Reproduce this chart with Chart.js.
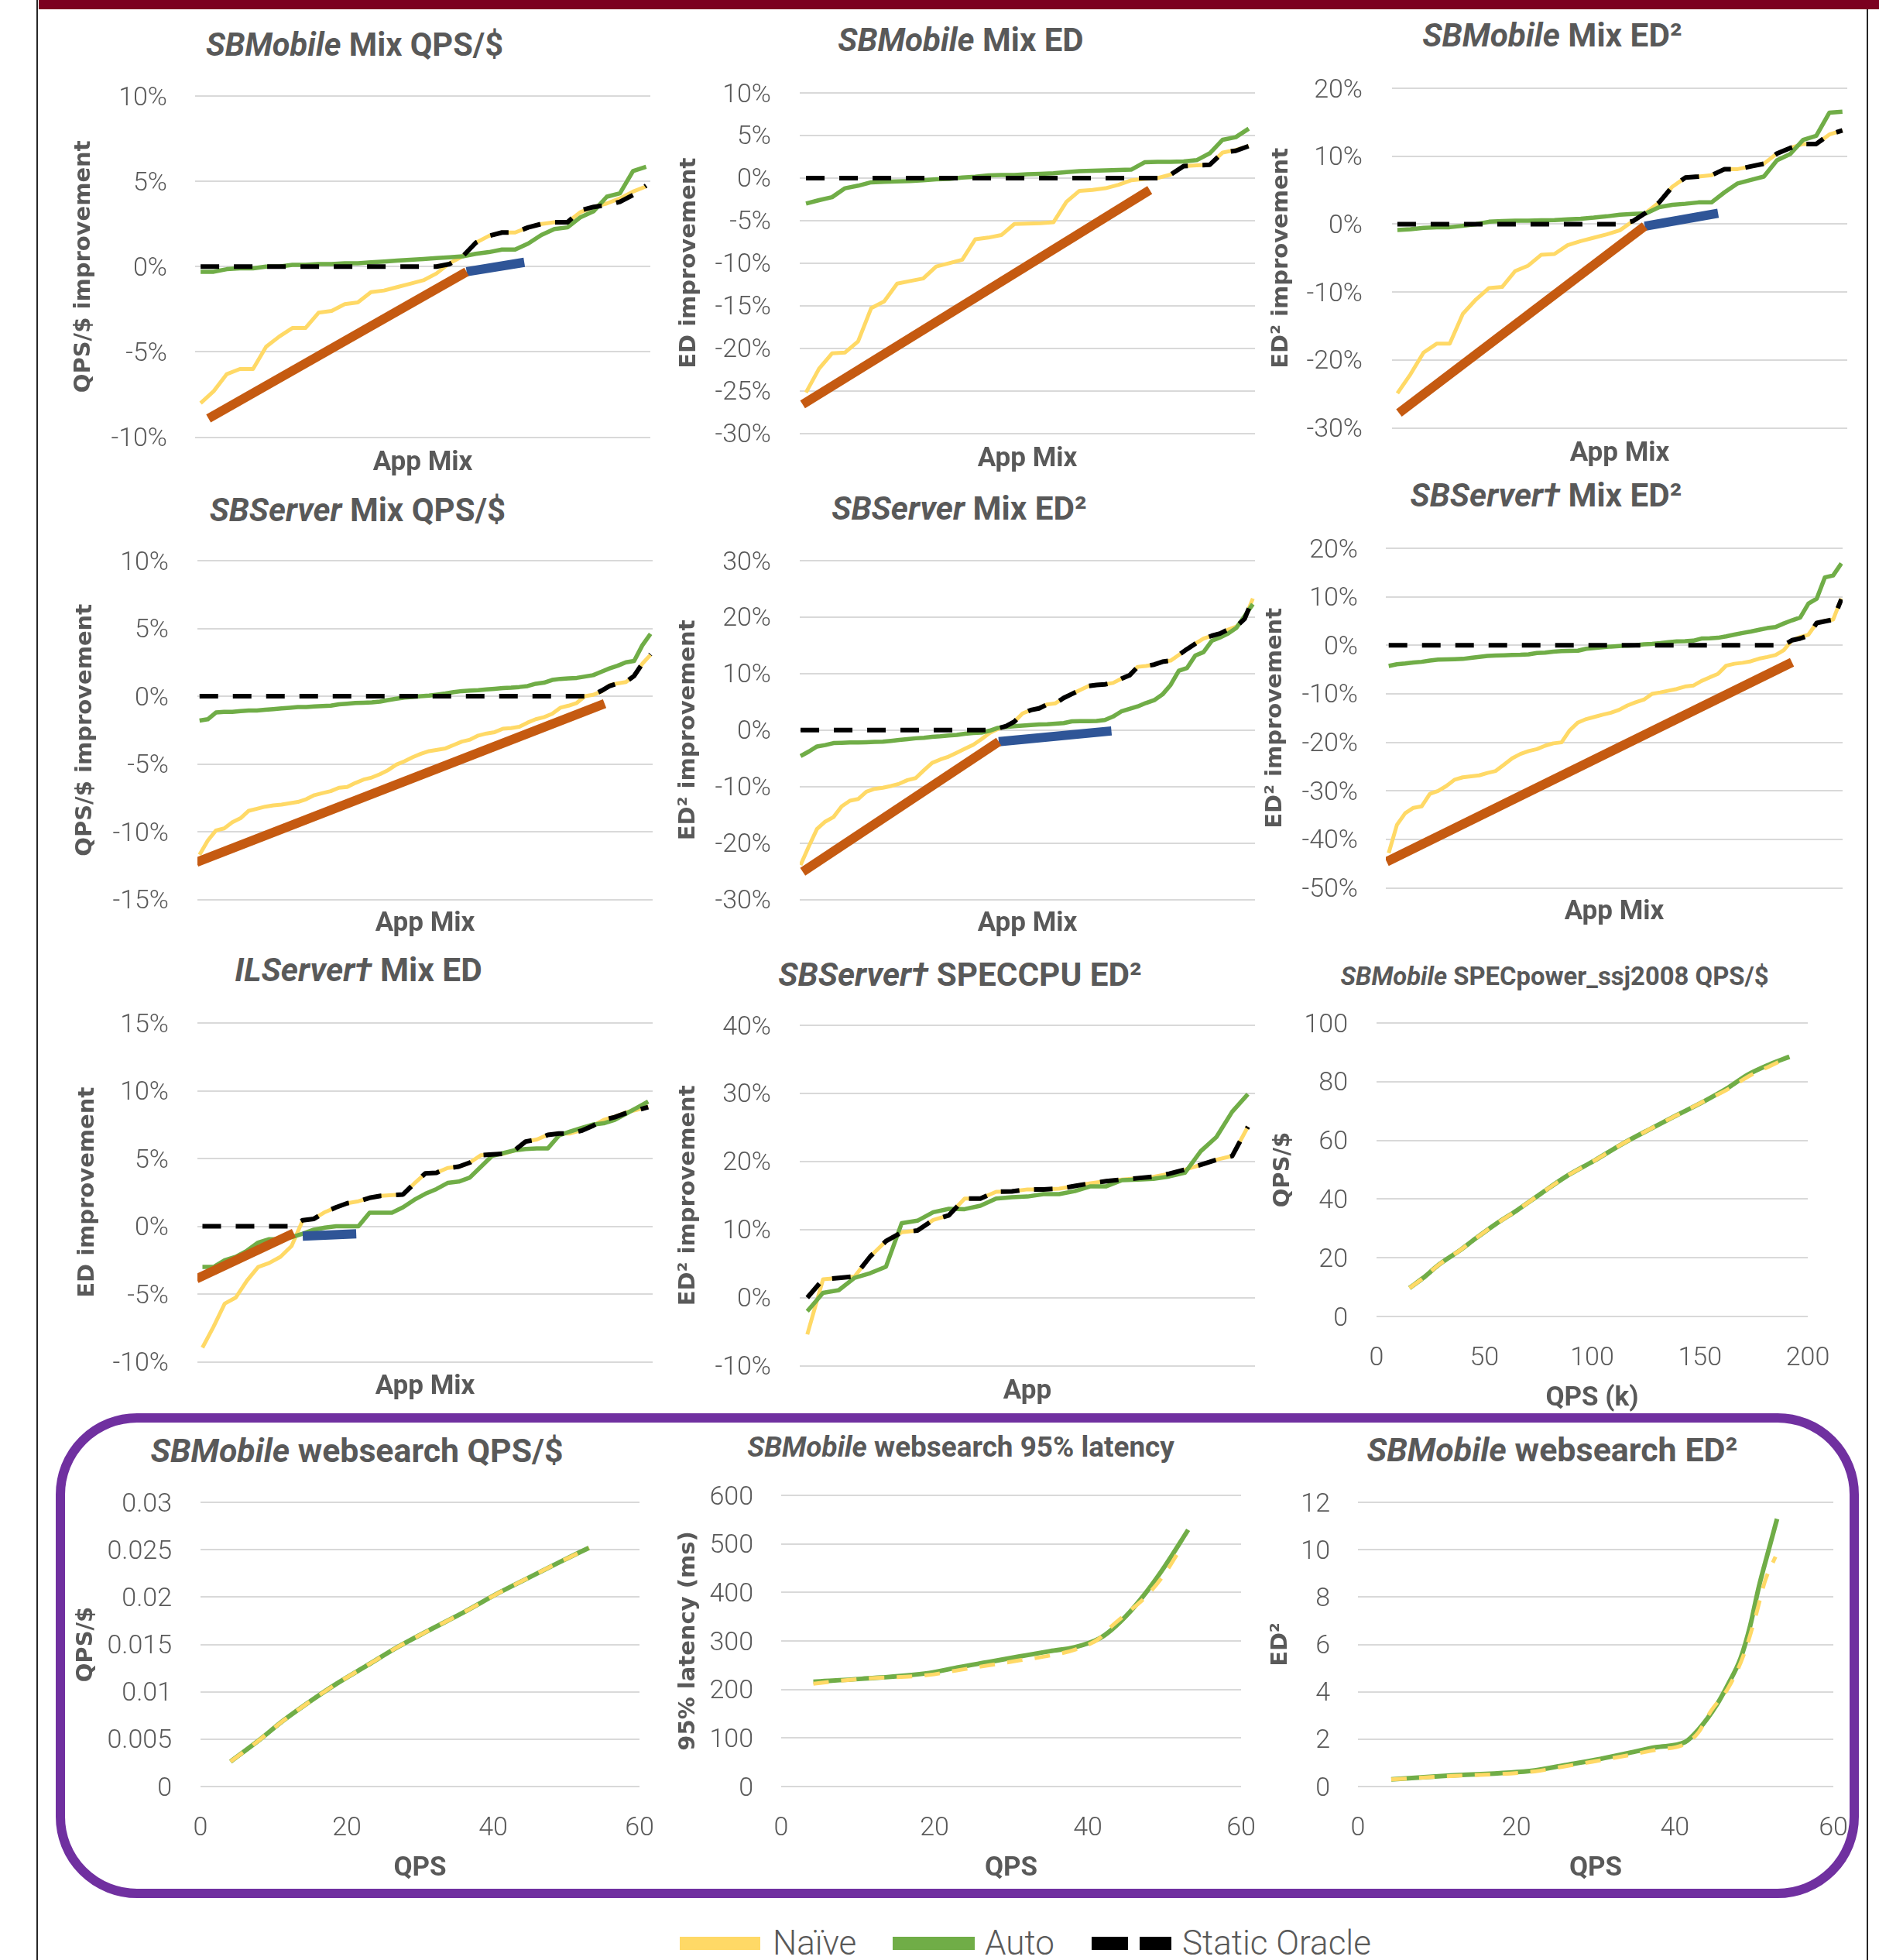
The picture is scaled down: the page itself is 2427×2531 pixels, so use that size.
<!DOCTYPE html>
<html>
<head>
<meta charset="utf-8">
<script src="https://cdn.jsdelivr.net/npm/chart.js@4.4.1/dist/chart.umd.min.js"></script>
<style>
  body { margin: 0; width: 2427px; height: 2531px; background: #fff; position: relative; overflow: hidden; font-family: Roboto, sans-serif; }
  .band { position: absolute; left: 50px; top: 0; width: 2377px; height: 12px; background: #7b0020; }
  .rule { position: absolute; width: 2px; background: #262626; }
  .box { position: absolute; left: 72px; top: 1825px; width: 2329px; height: 626px; box-sizing: border-box; border: 12px solid #7030a0; border-radius: 105px; }
  canvas { position: absolute; }
  .title { position: absolute; white-space: nowrap; transform: translate(-50%, -50%); font-weight: 700; color: #595959; line-height: 1; }
  .sw { position: absolute; top: 2501px; height: 17px; }
  .lg { position: absolute; top: 2509px; transform: translateY(-50%); font-size: 44px; font-weight: 300; color: #595959; line-height: 1; white-space: nowrap; }
</style>
</head>
<body>
<div class="band"></div>
<div class="rule" style="left:47px;top:0;height:2531px"></div>
<div class="rule" style="left:2411px;top:12px;height:2519px"></div>
<div class="box"></div>

<div class="sw" style="left:878px;width:104px;background:#FFD966"></div>
<div class="lg" style="left:998px">Naïve</div>
<div class="sw" style="left:1153px;width:106px;background:#70AD47"></div>
<div class="lg" style="left:1272px">Auto</div>
<div class="sw" style="left:1410px;width:47px;background:#000"></div>
<div class="sw" style="left:1472px;width:41px;background:#000"></div>
<div class="lg" style="left:1527px">Static Oracle</div>

<script>
const grey = '#595959';
const yellow = '#FFD966', green = '#70AD47', orange = '#C55A11', blue = '#2F5597';

// SBMobile Mix QPS/$
const mobileQpsNaive = [-8.0,-7.3,-6.3,-6.0,-6.0,-4.7,-4.1,-3.6,-3.6,-2.7,-2.6,-2.2,-2.1,-1.5,-1.4,-1.2,-1.0,-0.8,-0.4,0.2,0.6,1.4,1.8,2.0,2.0,2.3,2.5,2.6,2.6,3.2,3.5,3.7,4.0,4.4,4.7];
const mobileQpsAuto = [-0.3,-0.3,-0.15,-0.1,-0.1,0,0,0.1,0.1,0.15,0.15,0.2,0.2,0.25,0.3,0.35,0.4,0.45,0.5,0.55,0.6,0.75,0.85,1.0,1.0,1.35,1.85,2.2,2.3,2.9,3.25,4.1,4.3,5.6,5.85];
const mobileQpsOracle = [0,0,0,0,0,0,0,0,0,0,0,0,0,0,0,0,0,0,0,0.15,0.6,1.4,1.8,2.0,2.0,2.3,2.5,2.6,2.6,3.3,3.5,3.6,3.8,4.2,4.75];
const mobileQpsTrendX = [0.6, 20.3], mobileQpsTrendY = [-8.9, -0.3];
const mobileQpsReachX = [20.3, 24.7], mobileQpsReachY = [-0.3, 0.25];

// SBMobile Mix ED
const mobileEdNaive = [-25.2,-22.4,-20.6,-20.5,-19.2,-15.3,-14.5,-12.4,-12.1,-11.8,-10.4,-10.0,-9.6,-7.2,-7.0,-6.7,-5.4,-5.35,-5.3,-5.2,-2.8,-1.5,-1.4,-1.2,-0.8,-0.25,-0.1,0.0,0.4,1.4,1.5,1.55,3.0,3.3,3.75];
const mobileEdAuto = [-3.0,-2.6,-2.25,-1.2,-0.9,-0.5,-0.45,-0.4,-0.35,-0.25,-0.15,-0.1,0.05,0.15,0.3,0.35,0.35,0.45,0.5,0.55,0.7,0.8,0.85,0.9,0.95,1.0,1.85,1.9,1.9,1.95,2.1,2.9,4.5,4.8,5.8];
const mobileEdOracle = [0,0,0,0,0,0,0,0,0,0,0,0,0,0,0,0,0,0,0,0,0,0,0,0,0,0,0,0,0.4,1.4,1.5,1.55,3.0,3.2,3.75];
const mobileEdTrendX = [-0.26, 26.4], mobileEdTrendY = [-26.6, -1.4];

// SBMobile Mix ED^2
const mobileEd2Naive = [-24.9,-22.1,-18.9,-17.6,-17.6,-13.2,-11.1,-9.4,-9.25,-6.9,-6.1,-4.5,-4.4,-3.1,-2.5,-2.0,-1.5,-0.9,0.45,1.7,3.2,5.5,6.85,7.0,7.2,8.1,8.1,8.5,8.9,10.4,11.2,11.8,11.8,13.2,13.8];
const mobileEd2Auto = [-0.85,-0.75,-0.55,-0.45,-0.45,-0.25,0,0.35,0.45,0.5,0.5,0.55,0.6,0.7,0.8,0.95,1.15,1.4,1.5,1.6,2.5,2.85,3.0,3.2,3.2,4.7,6.0,6.5,7.0,9.4,10.3,12.4,13.0,16.4,16.55];
const mobileEd2Oracle = [0,0,0,0,0,0,0,0,0,0,0,0,0,0,0,0,0,0,0.45,1.7,3.2,5.5,6.85,7.0,7.2,8.1,8.1,8.5,8.9,10.4,11.2,11.8,11.8,13.2,13.8];
const mobileEd2TrendX = [0.12, 18.9], mobileEd2TrendY = [-27.8, -0.3];
const mobileEd2ReachX = [18.9, 24.5], mobileEd2ReachY = [-0.3, 1.6];

// SBServer Mix QPS/$
const serverQpsNaive = [-11.7,-10.65,-9.9,-9.75,-9.3,-9.0,-8.45,-8.3,-8.15,-8.05,-8.0,-7.9,-7.8,-7.6,-7.3,-7.15,-7.0,-6.75,-6.7,-6.4,-6.15,-6.0,-5.75,-5.45,-5.05,-4.8,-4.5,-4.25,-4.05,-3.95,-3.85,-3.6,-3.35,-3.2,-2.9,-2.75,-2.65,-2.4,-2.35,-2.25,-1.95,-1.7,-1.55,-1.3,-0.85,-0.7,-0.5,0.0,0.1,0.35,0.8,0.95,1.05,1.5,2.4,3.05];
const serverQpsAuto = [-1.8,-1.7,-1.2,-1.15,-1.15,-1.1,-1.05,-1.05,-1.0,-0.95,-0.9,-0.85,-0.8,-0.8,-0.75,-0.72,-0.7,-0.6,-0.55,-0.5,-0.48,-0.45,-0.4,-0.28,-0.18,-0.1,-0.05,0,0.05,0.12,0.2,0.3,0.38,0.42,0.45,0.5,0.55,0.6,0.63,0.68,0.75,0.92,1.0,1.2,1.28,1.32,1.35,1.45,1.55,1.8,2.05,2.25,2.5,2.6,3.75,4.6];
const serverQpsOracle = [0,0,0,0,0,0,0,0,0,0,0,0,0,0,0,0,0,0,0,0,0,0,0,0,0,0,0,0,0,0,0,0,0,0,0,0,0,0,0,0,0,0,0,0,0,0,0,0,0.1,0.4,0.75,0.95,1.05,1.5,2.4,3.1];
const serverQpsTrendX = [-0.36, 49.4], serverQpsTrendY = [-12.25, -0.55];

// SBServer Mix ED^2
const serverEd2Naive = [-23.9,-20.6,-17.5,-16.2,-15.4,-13.5,-12.5,-12.2,-10.9,-10.4,-10.2,-9.9,-9.5,-8.85,-8.5,-7.1,-5.8,-5.2,-4.7,-4.0,-3.3,-2.6,-1.6,-0.5,0.2,0.7,1.5,2.95,3.55,3.85,4.55,4.75,5.7,6.4,7.1,7.8,8.0,8.1,8.35,9.1,9.7,11.2,11.35,11.6,12.1,12.3,13.3,14.35,15.3,16.2,16.7,17.1,17.8,18.35,19.7,23.3];
const serverEd2Auto = [-4.6,-3.8,-2.9,-2.65,-2.3,-2.25,-2.2,-2.2,-2.15,-2.1,-2.05,-1.9,-1.75,-1.6,-1.45,-1.35,-1.2,-1.1,-0.95,-0.85,-0.65,-0.5,-0.45,-0.1,0.4,0.55,0.7,0.8,0.9,1.0,1.05,1.15,1.25,1.55,1.58,1.6,1.62,1.8,2.4,3.3,3.75,4.2,4.8,5.3,6.3,8.0,10.5,11.0,13.2,13.8,15.8,16.4,17.1,18.1,20.2,22.3];
const serverEd2Oracle = [0,0,0,0,0,0,0,0,0,0,0,0,0,0,0,0,0,0,0,0,0,0,0,0,0.3,0.7,1.5,2.95,3.55,3.85,4.55,4.75,5.7,6.4,7.1,7.8,8.0,8.1,8.35,9.1,9.7,11.2,11.35,11.6,12.1,12.3,13.3,14.35,15.3,16.2,16.7,17.1,17.8,18.35,19.7,23.3];
const serverEd2TrendX = [0.26, 24.1], serverEd2TrendY = [-25.1, -2.05];
const serverEd2ReachX = [24.1, 37.8], serverEd2ReachY = [-2.05, -0.15];

// SBServer† Mix ED^2
const serverDagEd2Naive = [-42.8,-37.0,-34.6,-33.5,-33.2,-30.6,-30.0,-29.0,-27.7,-27.2,-27.0,-26.8,-26.3,-25.9,-24.6,-23.3,-22.4,-21.8,-21.4,-20.7,-20.2,-20.0,-17.5,-15.9,-15.2,-14.75,-14.3,-13.9,-13.3,-12.4,-11.75,-11.2,-10.0,-9.7,-9.35,-9.0,-8.5,-8.3,-7.35,-6.6,-5.9,-4.2,-3.8,-3.6,-3.3,-2.75,-2.4,-2.0,-1.0,1.05,1.7,2.2,4.6,5.05,5.3,9.65];
const serverDagEd2Auto = [-4.25,-3.9,-3.75,-3.55,-3.4,-3.15,-2.95,-2.9,-2.85,-2.8,-2.6,-2.4,-2.2,-2.1,-2.05,-2.0,-1.95,-1.85,-1.6,-1.5,-1.3,-1.2,-1.15,-1.1,-0.7,-0.55,-0.4,-0.25,-0.15,-0.05,0,0.2,0.3,0.45,0.65,0.8,0.85,0.95,1.4,1.45,1.55,1.85,2.2,2.55,2.85,3.2,3.55,3.75,4.5,5.15,5.75,8.6,9.6,14.0,14.4,16.9];
const serverDagEd2Oracle = [0,0,0,0,0,0,0,0,0,0,0,0,0,0,0,0,0,0,0,0,0,0,0,0,0,0,0,0,0,0,0,0,0,0,0,0,0,0,0,0,0,0,0,0,0,0,0,0,0,1.05,1.4,2.0,4.6,4.95,5.3,9.5];
const serverDagEd2TrendX = [-0.25, 49.0], serverDagEd2TrendY = [-44.6, -3.5];

// ILServer† Mix ED
const ilServerEdNaive = [-8.95,-7.4,-5.7,-5.25,-4.0,-3.0,-2.7,-2.25,-1.45,0.45,0.55,1.05,1.4,1.7,1.85,2.1,2.25,2.3,2.35,3.15,3.9,3.95,4.3,4.4,4.7,5.25,5.3,5.35,5.6,6.25,6.4,6.75,6.85,6.85,7.1,7.4,7.85,8.1,8.4,8.6,8.85];
const ilServerEdAuto = [-3.0,-3.0,-2.5,-2.25,-1.8,-1.2,-0.95,-0.95,-0.8,-0.55,-0.25,-0.1,0,0,0,1.0,1.0,1.0,1.4,1.95,2.4,2.75,3.2,3.3,3.6,4.4,5.2,5.4,5.6,5.7,5.75,5.75,6.7,7.0,7.25,7.5,7.6,7.85,8.3,8.75,9.2];
const ilServerEdOracle = [0,0,0,0,0,0,0,0,0,0.45,0.55,1.05,1.4,1.7,1.85,2.1,2.25,2.3,2.35,3.15,3.9,3.95,4.3,4.4,4.7,5.25,5.3,5.35,5.6,6.25,6.4,6.75,6.85,6.85,7.05,7.4,7.85,8.05,8.35,8.55,8.8];
const ilServerEdTrendX = [-0.53, 8.2], ilServerEdTrendY = [-3.87, -0.5];
const ilServerEdReachX = [9.0, 13.8], ilServerEdReachY = [-0.72, -0.56];

// SBServer† SPECCPU ED^2
const specCpuNaive = [-5.4,2.7,2.9,3.1,6.05,8.3,9.6,9.85,11.4,12.1,14.55,14.55,15.55,15.6,15.9,15.9,16.0,16.4,16.8,17.1,17.35,17.55,17.75,18.2,18.8,19.5,20.25,20.8,25.1];
const specCpuAuto = [-2.0,0.7,1.1,2.9,3.6,4.55,10.95,11.3,12.55,13.05,13.0,13.5,14.55,14.75,14.85,15.2,15.2,15.65,16.35,16.35,17.25,17.35,17.45,17.8,18.35,21.5,23.6,27.3,29.9];
const specCpuOracle = [0,2.7,2.9,3.1,6.05,8.3,9.6,9.85,11.4,12.1,14.55,14.55,15.55,15.6,15.9,15.9,16.0,16.4,16.8,17.1,17.35,17.55,17.75,18.2,18.8,19.5,20.25,20.8,25.1];

// SBMobile SPECpower_ssj2008 QPS/$
const specPowerX = [15.3,21.4,29.0,38.4,46.0,55.5,65.0,76.3,87.7,101.0,114.2,127.5,138.8,152.1,163.4,172.0,182.4,191.5];
const specPowerAuto = [9.7,13.0,17.7,22.4,26.6,31.6,36.1,41.9,47.6,53.1,58.9,64.1,68.4,73.4,78.1,82.3,85.9,88.5];
const specPowerNaive = [9.7,13.0,17.7,22.4,26.6,31.6,36.1,41.9,47.6,53.1,58.9,64.1,68.4,73.4,77.6,81.6,85.3,88.5];

// SBMobile websearch
const webQpsX = [4.1,8.0,11.3,15.4,18.7,22.8,26.9,31.0,36.0,40.9,45.0,49.1,53.1];
const webQpsAuto = [0.00263,0.00489,0.00695,0.00921,0.0109,0.0128,0.0147,0.0164,0.0184,0.0205,0.0221,0.0237,0.0252];
const webQpsNaive = [0.00263,0.00489,0.00695,0.00921,0.0109,0.0128,0.0147,0.0164,0.0184,0.0205,0.0221,0.0237,0.0252];

const webLatX = [4.2,10.5,19.3,23.2,27.2,31.1,35.1,38.3,41.5,43.1,45.5,47.8,50.1,53.1];
const webLatAuto = [216,222,234,246,257,268,279,287,305,323,360,404,455,529];
const webLatNaiveX = [4.2,10.5,19.3,23.2,27.2,31.1,35.1,38.3,41.5,43.1,45.5,47.8,50.1,51.9];
const webLatNaive = [212,222,230,240,250,260,270,282,305,330,362,395,440,485];

const webEd2X = [4.2,10.9,22.3,26.1,30.0,33.8,37.6,41.3,43.0,45.3,46.8,48.3,49.5,50.6,51.8,52.9];
const webEd2Auto = [0.30,0.45,0.68,0.9,1.13,1.39,1.66,1.88,2.41,3.46,4.37,5.42,6.78,8.43,9.94,11.3];
const webEd2NaiveX = [4.2,10.9,22.3,26.1,30.0,33.8,37.6,41.3,43.0,44.5,46.8,48.7,50.2,51.4,52.7];
const webEd2Naive = [0.3,0.43,0.64,0.85,1.07,1.3,1.55,1.8,2.3,3.16,4.2,5.57,7.2,8.7,9.7];

const titles = [
  ['<i>SBMobile</i> Mix QPS/$', 458, 58, 384],
  ['<i>SBMobile</i> Mix ED', 1241, 52, 317],
  ['<i>SBMobile</i> Mix ED²', 2005, 46, 335],
  ['<i>SBServer</i> Mix QPS/$', 462, 659, 382],
  ['<i>SBServer</i> Mix ED²', 1239, 657, 330],
  ['<i>SBServer†</i> Mix ED²', 1997, 640, 351],
  ['<i>ILServer†</i> Mix ED', 463, 1253, 319],
  ['<i>SBServer†</i> SPECCPU ED²', 1240, 1259, 469],
  ['<i>SBMobile</i> SPECpower_ssj2008 QPS/$', 2008, 1261, 553],
  ['<i>SBMobile</i> websearch QPS/$', 461, 1873, 533],
  ['<i>SBMobile</i> websearch 95% latency', 1241, 1869, 552],
  ['<i>SBMobile</i> websearch ED²', 2005, 1872, 480]
];

titles.forEach(function (t) {
  const el = document.createElement('div');
  el.className = 'title';
  el.innerHTML = t[0];
  el.style.left = t[1] + 'px';
  el.style.top = t[2] + 'px';
  el.style.fontSize = '40px';
  document.body.appendChild(el);
  // fit the title to the width it has in the figure
  el.style.fontSize = (40 * t[3] / el.offsetWidth).toFixed(1) + 'px';
});

function byIndex(values) {
  return values.map((v, i) => ({ x: i, y: v }));
}
function pairs(xs, ys) {
  return xs.map((x, i) => ({ x: x, y: ys[i] }));
}

function mixSets(naive, auto, oracle, trend, reach) {
  const sets = [
    { data: byIndex(oracle), borderColor: '#000', borderWidth: 6, borderDash: [24, 19], borderCapStyle: 'butt', order: 0 },
    { data: byIndex(auto), borderColor: green, borderWidth: 5.5, order: 2 },
    { data: byIndex(naive), borderColor: yellow, borderWidth: 5, order: 3 }
  ];
  if (trend) sets.push({ data: pairs(trend[0], trend[1]), borderColor: orange, borderWidth: 12, borderCapStyle: 'butt', order: 1 });
  if (reach) sets.push({ data: pairs(reach[0], reach[1]), borderColor: blue, borderWidth: 12, borderCapStyle: 'butt', order: 1 });
  return sets;
}

function curveSets(autoX, autoY, naiveX, naiveY) {
  return [
    { data: pairs(naiveX, naiveY), borderColor: yellow, borderWidth: 5, borderDash: [20, 16], borderCapStyle: 'butt', cubicInterpolationMode: 'monotone', order: 0 },
    { data: pairs(autoX, autoY), borderColor: green, borderWidth: 6, cubicInterpolationMode: 'monotone', order: 1 }
  ];
}

const tickFont = { family: 'Roboto', weight: 300, size: 34 };
const pct = v => v + '%';

// b: plot box in page pixels, tick label right edge, axis title centres
function makeChart(b, y, x, datasets) {
  const left = Math.round(b.yTitle + 2 - 0.6 * 29);
  const top = b.T - 70;
  const width = b.R + 70 - left;
  const height = Math.round(b.xTitle + 3 + 0.6 * 35) - top;
  const canvas = document.createElement('canvas');
  canvas.width = width;
  canvas.height = height;
  canvas.style.left = left + 'px';
  canvas.style.top = top + 'px';
  document.body.appendChild(canvas);

  const xScale = {
    type: 'linear', min: x.min, max: x.max,
    grid: { display: false }, border: { display: false },
    ticks: { display: false },
    title: { display: true, text: x.title, color: grey, font: { family: 'Roboto', weight: 'bold', size: 35 }, padding: 0 },
    afterFit: s => { s.height = height - (b.B - top); }
  };
  if (x.step) {
    xScale.ticks = { display: true, stepSize: x.step, color: grey, font: tickFont, maxRotation: 0, autoSkip: false,
      padding: b.xTick - b.B - 0.6 * 34 };
  }

  new Chart(canvas, {
    type: 'line',
    data: { datasets: datasets },
    options: {
      responsive: false, animation: false, devicePixelRatio: 1,
      layout: { padding: { left: 0, top: 70, right: 70, bottom: 0 } },
      plugins: { legend: { display: false }, tooltip: { enabled: false } },
      elements: { point: { radius: 0 }, line: { borderJoinStyle: 'round', tension: 0 } },
      scales: {
        x: xScale,
        y: {
          min: y.min, max: y.max,
          ticks: { stepSize: y.step, padding: b.L - b.tickR, labelOffset: 3, color: grey, font: tickFont, callback: y.format },
          grid: { color: '#d9d9d9', lineWidth: 2, drawTicks: false },
          border: { display: false },
          title: { display: true, text: y.title, color: grey, font: { family: 'DejaVu Sans', weight: 'bold', size: 29 }, padding: 0 },
          afterFit: s => { s.width = b.L - left; }
        }
      }
    }
  });
}

makeChart({ L: 252, R: 840, T: 124, B: 566, tickR: 216, yTitle: 106, xTitle: 597 },
  { min: -10, max: 10, step: 5, format: pct, title: 'QPS/$ improvement' },
  { min: -0.42, max: 34.32, title: 'App Mix' },
  mixSets(mobileQpsNaive, mobileQpsAuto, mobileQpsOracle, [mobileQpsTrendX, mobileQpsTrendY], [mobileQpsReachX, mobileQpsReachY]));

makeChart({ L: 1033, R: 1621, T: 120, B: 562, tickR: 996, yTitle: 888, xTitle: 593 },
  { min: -30, max: 10, step: 5, format: pct, title: 'ED improvement' },
  { min: -0.48, max: 34.48, title: 'App Mix' },
  mixSets(mobileEdNaive, mobileEdAuto, mobileEdOracle, [mobileEdTrendX, mobileEdTrendY]));

makeChart({ L: 1798, R: 2386, T: 114, B: 556, tickR: 1760, yTitle: 1653, xTitle: 587 },
  { min: -30, max: 20, step: 10, format: pct, title: 'ED² improvement' },
  { min: -0.41, max: 34.37, title: 'App Mix' },
  mixSets(mobileEd2Naive, mobileEd2Auto, mobileEd2Oracle, [mobileEd2TrendX, mobileEd2TrendY], [mobileEd2ReachX, mobileEd2ReachY]));

makeChart({ L: 255, R: 843, T: 724, B: 1166, tickR: 218, yTitle: 108, xTitle: 1195 },
  { min: -15, max: 10, step: 5, format: pct, title: 'QPS/$ improvement' },
  { min: -0.26, max: 55.26, title: 'App Mix' },
  mixSets(serverQpsNaive, serverQpsAuto, serverQpsOracle, [serverQpsTrendX, serverQpsTrendY]));

makeChart({ L: 1033, R: 1621, T: 724, B: 1166, tickR: 996, yTitle: 887, xTitle: 1195 },
  { min: -30, max: 30, step: 10, format: pct, title: 'ED² improvement' },
  { min: -0.1, max: 55.26, title: 'App Mix' },
  mixSets(serverEd2Naive, serverEd2Auto, serverEd2Oracle, [serverEd2TrendX, serverEd2TrendY], [serverEd2ReachX, serverEd2ReachY]));

makeChart({ L: 1790, R: 2380, T: 708, B: 1150, tickR: 1754, yTitle: 1645, xTitle: 1179 },
  { min: -50, max: 20, step: 10, format: pct, title: 'ED² improvement' },
  { min: -0.35, max: 55.15, title: 'App Mix' },
  mixSets(serverDagEd2Naive, serverDagEd2Auto, serverDagEd2Oracle, [serverDagEd2TrendX, serverDagEd2TrendY]));

makeChart({ L: 255, R: 843, T: 1321, B: 1762, tickR: 218, yTitle: 111, xTitle: 1792 },
  { min: -10, max: 15, step: 5, format: pct, title: 'ED improvement' },
  { min: -0.45, max: 40.4, title: 'App Mix' },
  mixSets(ilServerEdNaive, ilServerEdAuto, ilServerEdOracle, [ilServerEdTrendX, ilServerEdTrendY], [ilServerEdReachX, ilServerEdReachY]));

makeChart({ L: 1033, R: 1621, T: 1324, B: 1766, tickR: 996, yTitle: 887, xTitle: 1797 },
  { min: -10, max: 40, step: 10, format: pct, title: 'ED² improvement' },
  { min: -0.48, max: 28.45, title: 'App' },
  mixSets(specCpuNaive, specCpuAuto, specCpuOracle));

makeChart({ L: 1778, R: 2335, T: 1321, B: 1700, tickR: 1741, yTitle: 1655, xTitle: 1803, xTick: 1746 },
  { min: 0, max: 100, step: 20, title: 'QPS/$' },
  { min: 0, max: 200, step: 50, title: 'QPS (k)' },
  curveSets(specPowerX, specPowerAuto, specPowerX, specPowerNaive));

makeChart({ L: 259, R: 826, T: 1940, B: 2307, tickR: 222, yTitle: 109, xTitle: 2410, xTick: 2353 },
  { min: 0, max: 0.03, step: 0.005, format: v => +v.toFixed(3), title: 'QPS/$' },
  { min: 0, max: 60, step: 20, title: 'QPS' },
  curveSets(webQpsX, webQpsAuto, webQpsX, webQpsNaive));

makeChart({ L: 1009, R: 1603, T: 1931, B: 2307, tickR: 973, yTitle: 887, xTitle: 2410, xTick: 2353 },
  { min: 0, max: 600, step: 100, title: '95% latency (ms)' },
  { min: 0, max: 60, step: 20, title: 'QPS' },
  curveSets(webLatX, webLatAuto, webLatNaiveX, webLatNaive));

makeChart({ L: 1754, R: 2368, T: 1940, B: 2307, tickR: 1718, yTitle: 1652, xTitle: 2410, xTick: 2353 },
  { min: 0, max: 12, step: 2, title: 'ED²' },
  { min: 0, max: 60, step: 20, title: 'QPS' },
  curveSets(webEd2X, webEd2Auto, webEd2NaiveX, webEd2Naive));
</script>
</body>
</html>
